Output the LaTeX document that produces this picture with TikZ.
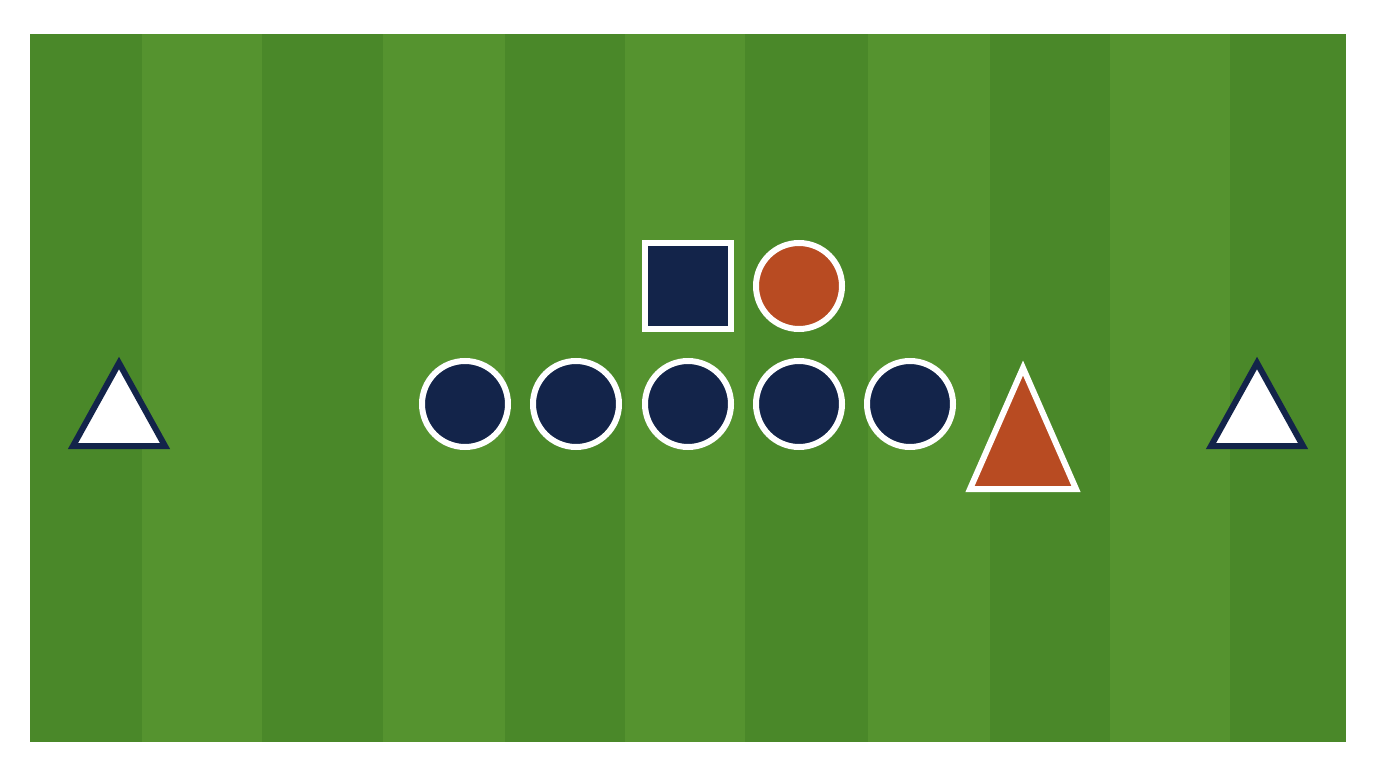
\documentclass[tikz,border=0pt]{standalone}
\usetikzlibrary{shapes.geometric}
\definecolor{navy}{HTML}{13244A}
\definecolor{rust}{HTML}{B84B22}
\definecolor{grassA}{HTML}{4A8829}
\definecolor{grassB}{HTML}{55932F}
\tikzset{
  player/.style={circle, fill=navy, draw=white, line width=6pt, minimum size=86pt, inner sep=0pt},
  ballc/.style={circle, fill=rust, draw=white, line width=6pt, minimum size=86pt, inner sep=0pt},
  keeper/.style={rectangle, fill=navy, draw=white, line width=6pt, minimum size=86pt, inner sep=0pt},
  cone/.style={fill=white, draw=navy, line width=6pt, line join=miter},
  bigcone/.style={fill=rust, draw=white, line width=6pt, line join=miter}
}
\begin{document}
\begin{tikzpicture}[x=1pt,y=-1pt]
\useasboundingbox (0,0) rectangle (1376,768);
\fill[white] (0,0) rectangle (1376,768);
% field stripes
\fill[grassA] (30,34) rectangle (1346,742);
\foreach \a/\b in {142/262, 383/505, 625/745, 868/990, 1110/1230}{
  \fill[grassB] (\a,34) rectangle (\b,742);
}
% top shapes
\node[keeper] (sq) at (688,285.5) {};
\node[ballc] (oc) at (799,286) {};
% row of players
\node[player] (p1) at (465,404) {};
\node[player] (p2) at (576,404) {};
\node[player] (p3) at (688,404) {};
\node[player] (p4) at (799,404) {};
\node[player] (p5) at (910,404) {};
% orange triangle
\draw[bigcone] (1023,368) -- (1076,489) -- (970,489) -- cycle;
% cones
\draw[cone] (119,363) -- (165,446) -- (73,446) -- cycle;
\draw[cone] (1257,363) -- (1303,446) -- (1211,446) -- cycle;
\end{tikzpicture}
\end{document}
